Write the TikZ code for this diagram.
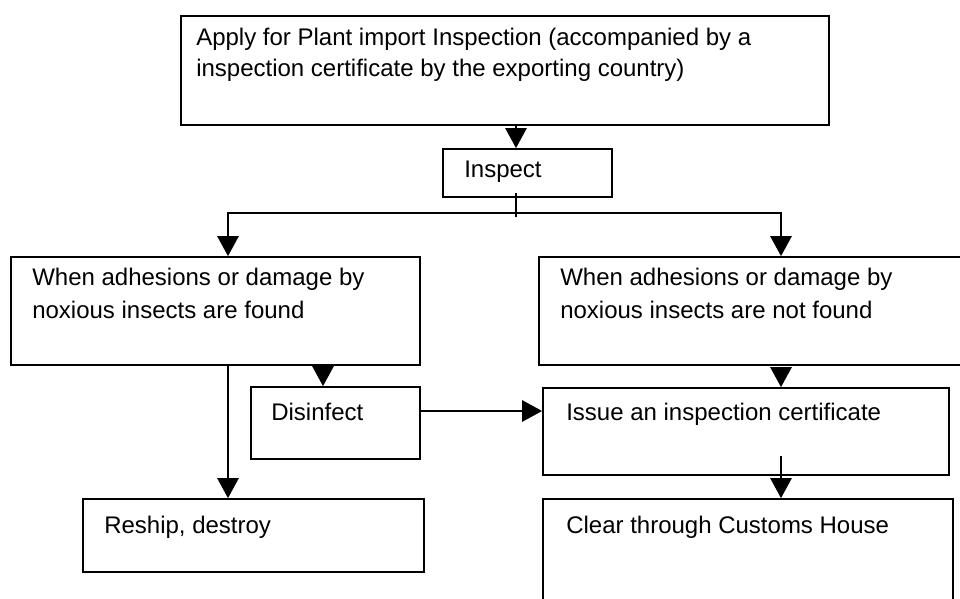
\documentclass[tikz,border=0pt]{standalone}
\usepackage{fontspec}
\setmainfont{Liberation Sans}
\usetikzlibrary{arrows.meta,fit}
\tikzset{
  box/.style={draw, line width=1.3pt, inner sep=0pt},
  txt/.style={anchor=base west, inner sep=0pt, font=\fontsize{18pt}{24pt}\selectfont},
  ln/.style={line width=1.2pt},
  arr/.style={line width=1.2pt, -{Triangle[width=16pt,length=15pt]}}
}
\begin{document}
\begin{tikzpicture}[x=0.75pt, y=-0.75pt]
\useasboundingbox (0,0) rectangle (960,599);
\fill[white] (0,0) rectangle (960,599);
\clip (0,0) rectangle (960,599);
% column / row helpers
\coordinate (cM) at (516,0);
\coordinate (cL) at (228,0);
\coordinate (cR) at (781,0);
\coordinate (cD) at (323,0);
\coordinate (cH) at (0,411);
\coordinate (jn) at (516,213);
% boxes
\node[box, fit={(181,16) (829,125)}] (top) {};
\node[box, fit={(443,149) (612,197)}] (insp) {};
\node[box, fit={(11,257) (420,365)}] (lb) {};
\node[box, fit={(539,257) (966,365)}] (rb) {};
\node[box, fit={(251,387) (420,459)}] (dis) {};
\node[box, fit={(543,388) (949,475)}] (iss) {};
\node[box, fit={(83,499) (424,572)}] (rs) {};
\node[box, fit={(543,499) (953,612)}] (clr) {};
% texts
\node[txt] (t1a) at (196,46) {Apply for Plant import Inspection (accompanied by a};
\node[txt] (t1b) at (196,77) {inspection certificate by the exporting country)};
\node[txt] (t2) at (464,178) {Inspect};
\node[txt] (t3a) at (32,285) {When adhesions or damage by};
\node[txt] (t3b) at (32,318) {noxious insects are found};
\node[txt] (t4a) at (560,285) {When adhesions or damage by};
\node[txt] (t4b) at (560,318) {noxious insects are not found};
\node[txt] (t5) at (271,420) {Disinfect};
\node[txt] (t6) at (566,420) {Issue an inspection certificate};
\node[txt] (t7) at (104,533) {Reship, destroy};
\node[txt] (t8) at (566,533) {Clear through Customs House};
% connectors
\draw[arr] (top.south -| cM) -- (insp.north -| cM);
\draw[ln] ([yshift=3.75pt]insp.south -| cM) -- ([yshift=-3pt]jn);
\draw[arr] (jn) -- (jn -| cL) -- (lb.north -| cL);
\draw[arr] (jn) -- (jn -| cR) -- (rb.north -| cR);
\draw[arr, shorten <=3pt] (lb.south -| cD) -- (dis.north -| cD);
\draw[arr] (lb.south -| cL) -- (rs.north -| cL);
\draw[arr] (dis.east |- cH) -- (iss.west |- cH);
\draw[arr, shorten <=3pt] (rb.south -| cR) -- (iss.north -| cR);
\draw[arr] ([yshift=15pt]iss.south -| cR) -- (clr.north -| cR);
\end{tikzpicture}
\end{document}
